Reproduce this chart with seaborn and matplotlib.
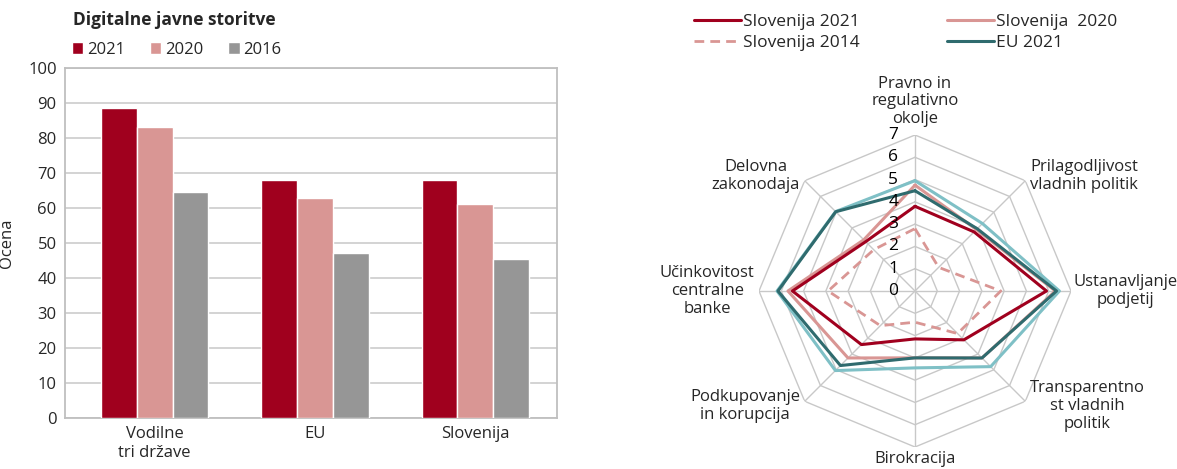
import numpy as np
import pandas as pd
import matplotlib
matplotlib.use("Agg")
import matplotlib.pyplot as plt
import seaborn as sns

# ---------------- data ----------------
bar_groups = ["Vodilne\ntri države", "EU", "Slovenija"]
bar_years = ["2021", "2020", "2016"]
vals_2021 = [88.5, 68.0, 68.0]
vals_2020 = [83.0, 62.8, 61.2]
vals_2016 = [64.7, 47.0, 45.3]

radar_categories = ["Pravno in\nregulativno\nokolje", "Prilagodljivost\nvladnih politik",
                    "Ustanavljanje\npodjetij", "Transparentno\nst vladnih\npolitik",
                    "Birokracija", "Podkupovanje\nin korupcija",
                    "Učinkovitost\ncentralne\nbanke", "Delovna\nzakonodaja"]
slo_2021 = [3.8, 3.75, 5.9, 3.1, 2.15, 3.4, 5.5, 3.13]
slo_2020 = [4.75, 3.9, 6.3, 4.25, 3.0, 4.25, 5.7, 3.25]
slo_2014 = [2.8, 1.5, 3.85, 2.7, 1.4, 2.2, 3.9, 2.62]
eu_2021 = [4.5, 3.95, 6.35, 4.25, 3.0, 4.73, 6.15, 5.03]
eu_other = [4.95, 4.28, 6.48, 4.8, 3.45, 5.05, 6.19, 5.04]

# ---------------- style ----------------
sns.set_theme(style="white")
plt.rcParams['font.family'] = ['Open Sans', 'DejaVu Sans']
FS_BAR = 12
FS_RAD = 12.5
FS_CAT = 12

C21 = "#A0001E"
C20 = "#D99694"
C16 = "#969696"
CEU = "#2F6B6E"
CLT = "#7FC0C6"
GRID = "#C8C8C8"

fig = plt.figure(figsize=(11.77, 4.69), dpi=100)

# ---------------- bar chart ----------------
ax1 = fig.add_axes([65/1177, 51/469, 492/1177, 350/469])
df = pd.DataFrame({
    "group": bar_groups * 3,
    "year": [bar_years[0]] * 3 + [bar_years[1]] * 3 + [bar_years[2]] * 3,
    "value": vals_2021 + vals_2020 + vals_2016,
})
sns.barplot(data=df, x="group", y="value", hue="year", hue_order=bar_years,
            palette=[C21, C20, C16], saturation=1, width=0.67, ax=ax1, zorder=3)
ax1.set_xlim(-0.56, 2.51)
ax1.set_ylim(0, 100)
ax1.set_yticks(range(0, 101, 10))
ax1.yaxis.grid(True, color="#D0D0D0", lw=1.3, zorder=0)
ax1.set_axisbelow(True)
for s in ax1.spines.values():
    s.set_color("#BFBFBF")
    s.set_linewidth(1.3)
ax1.tick_params(axis="both", labelsize=FS_BAR, length=0, pad=6)
ax1.set_xlabel("")
ax1.set_ylabel("Ocena", fontsize=FS_BAR)
ax1.yaxis.set_label_coords(-50/492, 0.5)
ax1.legend(loc="upper left", bbox_to_anchor=(60/1177, 1 - 30/469),
           bbox_transform=fig.transFigure, ncol=3, frameon=False,
           fontsize=FS_BAR, handlelength=0.7, handleheight=0.7, handletextpad=0.2,
           columnspacing=1.5, borderpad=0.2)
fig.text(73/1177, 1 - 20/469, "Digitalne javne storitve", fontsize=12.5,
         fontweight="bold", ha="left", va="center")

# ---------------- radar chart ----------------
ax2 = fig.add_axes([759/1177, 22/469, 312/1177, 312/469], projection="polar")
ax2.set_theta_zero_location("N")
ax2.set_theta_direction(-1)
ax2.set_ylim(0, 7)
ax2.grid(False)
ax2.spines["polar"].set_visible(False)
ax2.set_xticks([])
ax2.set_yticks([])
ax2.patch.set_alpha(0)

n = len(radar_categories)
ang = np.linspace(0, 2 * np.pi, n, endpoint=False)
ang_c = np.append(ang, ang[0])

for r in range(1, 8):
    ax2.plot(ang_c, [r] * (n + 1), color=GRID, lw=1, zorder=1)
for a in ang:
    ax2.plot([a, a], [0, 7], color=GRID, lw=1, zorder=1)

def closed(v):
    return list(v) + [v[0]]

ax2.plot(ang_c, closed(eu_other), color=CLT, lw=2.2, zorder=3)
l_eu, = ax2.plot(ang_c, closed(eu_2021), color=CEU, lw=2.2, zorder=4)
l_20, = ax2.plot(ang_c, closed(slo_2020), color=C20, lw=2.2, zorder=3.5)
l_14, = ax2.plot(ang_c, closed(slo_2014), color=C20, lw=2.0, ls=(0, (3.5, 2.2)), zorder=3)
l_21, = ax2.plot(ang_c, closed(slo_2021), color=C21, lw=2.2, zorder=5)

for r in range(8):
    ax2.annotate(str(r), xy=(0, r), xytext=(-12, 0), textcoords="offset points",
                 ha="right", va="center", fontsize=FS_RAD, color="black", zorder=6)

lab_pos = [
    (7.35, "center", "bottom"),
    (7.3, "left", "center"),
    (7.12, "left", "center"),
    (7.3, "left", "center"),
    (7.2, "center", "top"),
    (7.3, "right", "center"),
    (7.2, "right", "center"),
    (7.3, "right", "center"),
]
for a, lab, (rr, ha, va) in zip(ang, radar_categories, lab_pos):
    ax2.text(a, rr, lab, ha=ha, va=va, fontsize=FS_CAT, multialignment="center",
             linespacing=1.15)

fig.legend(handles=[l_21, l_14, l_20, l_eu],
           labels=["Slovenija 2021", "Slovenija 2014", "Slovenija  2020", "EU 2021"],
           ncol=2, loc="upper left", bbox_to_anchor=(680/1177, 1.0),
           frameon=False, fontsize=FS_RAD, handlelength=2.7, handletextpad=0.15,
           columnspacing=5.0, labelspacing=0.3, borderpad=0.3)

fig.savefig("out.png", dpi=100)
